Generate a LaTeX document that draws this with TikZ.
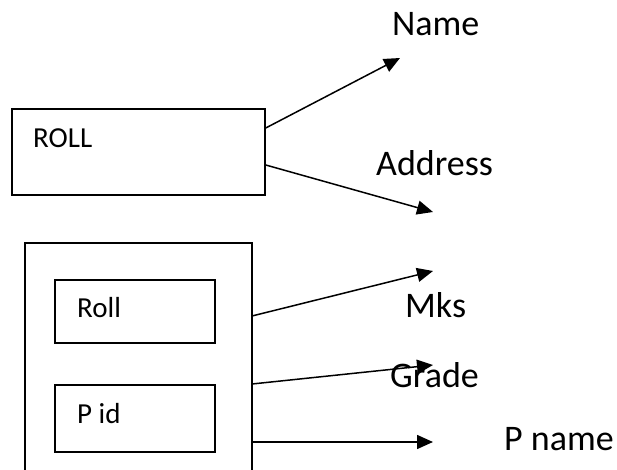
\documentclass[tikz,border=0pt]{standalone}
\usepackage{fontspec}
\setmainfont{Carlito}
\usetikzlibrary{arrows.meta}
\begin{document}
\begin{tikzpicture}[x=1pt,y=1pt,
  boxline/.style={draw=black,line width=1.5pt},
  box/.style={boxline,rectangle,inner sep=0pt},
  small/.style={font=\fontsize{29}{34}\selectfont,anchor=base west,inner sep=0pt},
  big/.style={font=\fontsize{36}{42}\selectfont,anchor=base west,inner sep=0pt},
  arr/.style={line width=1.5pt,-{Triangle[length=16pt,width=14pt]}}]
\useasboundingbox (0,0) rectangle (617,470);
% boxes
\node[box,minimum width=253pt,minimum height=86pt] (rollbox) at (138.5,318) {};
\node[small] (rolltxt) at (33,322) {ROLL};
\coordinate (obl) at (25,-10);
\coordinate (obr) at (252,-10);
\draw[boxline] (obl) -- (25,227) -- (252,227) -- (obr);
\node[box,minimum width=160pt,minimum height=63pt] (rollin) at (135,158.5) {};
\node[small] (rollintxt) at (77,152) {Roll};
\node[box,minimum width=160pt,minimum height=67pt] (pid) at (135,51.5) {};
\node[small] (pidtxt) at (77,46) {P id};
% labels
\node[big] (name) at (392,434) {Name};
\node[big] (address) at (376,294) {Address};
\node[big] (mks) at (405,152) {Mks};
\node[big] (grade) at (390,82) {Grade};
\node[big] (pname) at (504,19) {P name};
% arrow tips
\coordinate (tname) at (400,412);
\coordinate (taddr) at (433,258);
\coordinate (tmks) at (433,199);
\coordinate (tgrade) at (433,105);
\coordinate (tpname) at (433,28);
% connectors
\draw[arr] (rollbox.east |- 0,342) -- (tname);
\draw[arr] (rollbox.east |- 0,305) -- (taddr);
\draw[arr] (obr |- 0,154) -- (tmks);
\draw[arr] (obr |- 0,86) -- (tgrade);
\draw[arr] (obr |- 0,28) -- (tpname);
\end{tikzpicture}
\end{document}
